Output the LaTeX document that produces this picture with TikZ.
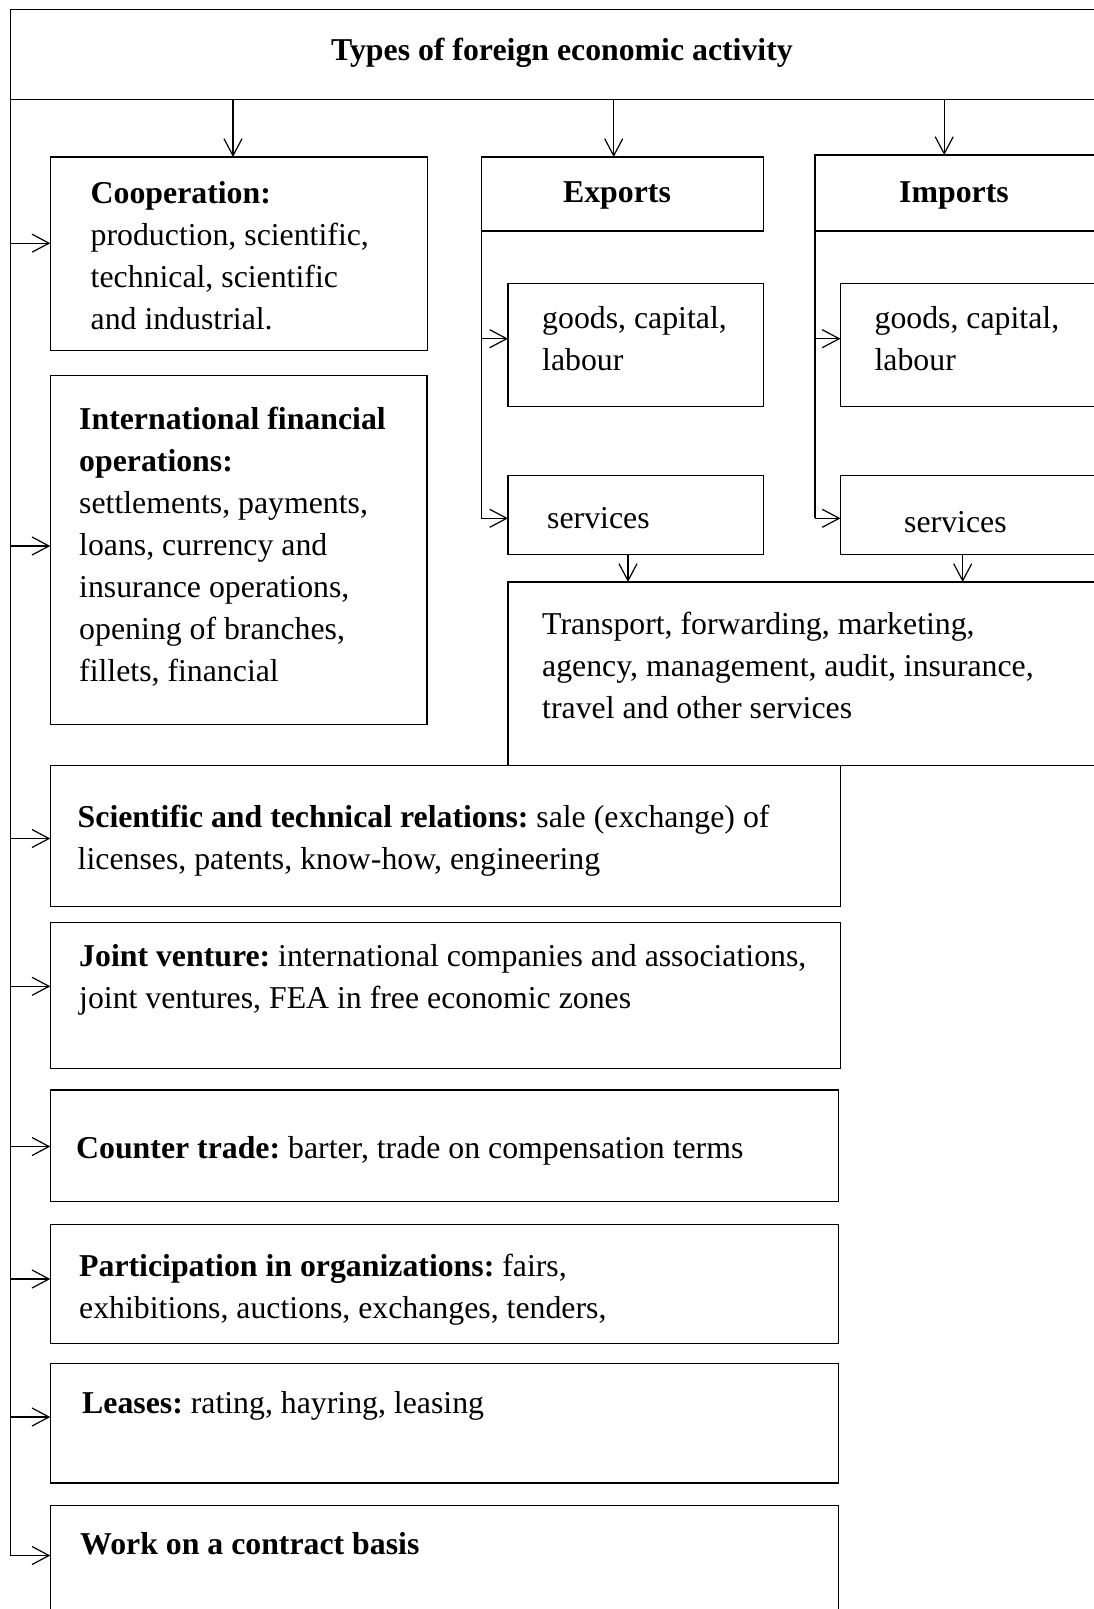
\documentclass[tikz,border=0pt]{standalone}
\usepackage{fontspec}
\setmainfont{Liberation Serif}[Ligatures=CommonOff]
\usetikzlibrary{arrows.meta}
\frenchspacing
\newcommand\txtlines[1]{\begin{tabular}[t]{@{}l@{}}#1\end{tabular}}
\begin{document}
\begin{tikzpicture}[x=1pt,y=-1pt,
  box/.style={draw, line width=1.2pt, rectangle, inner sep=0pt, outer sep=0pt, anchor=north west},
  lbl/.style={anchor=base west, inner sep=0pt},
  conn/.style={line width=1.2pt},
  arr/.style={conn, -{Straight Barb[length=17pt,width=18pt,line width=1.2pt]}},
  every node/.style={font=\fontsize{31.8}{42}\selectfont\frenchspacing}]
\useasboundingbox (0,0) rectangle (1094,1609);
\clip (0,0) rectangle (1094,1609);
\fill[white] (0,0) rectangle (1094,1609);

% boxes
\node[box, minimum width=1109.7pt, minimum height=90.5pt] (header) at (10.3,9.3) {};
\node[box, minimum width=377pt, minimum height=193.5pt] (coop) at (50.3,157) {};
\node[box, minimum width=282.3pt, minimum height=74pt] (exports) at (481.3,157) {};
\node[box, minimum width=305pt, minimum height=76pt] (imports) at (814.9,155) {};
\node[box, minimum width=255.6pt, minimum height=123pt] (goodsE) at (508,283.3) {};
\node[box, minimum width=255.6pt, minimum height=79pt] (servE) at (508,475.2) {};
\node[box, minimum width=280pt, minimum height=123pt] (goodsI) at (840.5,283.3) {};
\node[box, minimum width=280pt, minimum height=79pt] (servI) at (840.5,475.2) {};
\node[box, minimum width=612pt, minimum height=183.6pt] (transport) at (508,582) {};
\node[box, minimum width=376.7pt, minimum height=349pt] (finance) at (50.3,375.6) {};
\node[box, minimum width=790.2pt, minimum height=140.6pt] (sci) at (50.3,765.6) {};
\node[box, minimum width=790.2pt, minimum height=145.8pt] (joint) at (50.3,922.6) {};
\node[box, minimum width=788.2pt, minimum height=111.8pt] (counter) at (50.3,1090) {};
\node[box, minimum width=788.2pt, minimum height=119pt] (partic) at (50.3,1224.4) {};
\node[box, minimum width=788.2pt, minimum height=119.2pt] (leases) at (50.3,1363.8) {};
\node[box, minimum width=788.2pt, minimum height=150pt] (work) at (50.3,1505.6) {};

% texts
\node[anchor=base, inner sep=0pt] (title) at (562,60) {\textbf{Types of foreign economic activity}};
\node[lbl] (coopT) at (90.5,203) {\txtlines{\textbf{Cooperation:}\\ production, scientific,\\ technical, scientific\\ and industrial.}};
\node[anchor=base, inner sep=0pt] (expT) at (617,202) {\textbf{Exports}};
\node[anchor=base, inner sep=0pt] (impT) at (954,202) {\textbf{Imports}};
\node[lbl] (goodsET) at (542,328) {\txtlines{goods, capital,\\ labour}};
\node[lbl] (goodsIT) at (874.4,328) {\txtlines{goods, capital,\\ labour}};
\node[lbl] (servET) at (547,528) {services};
\node[lbl] (servIT) at (904,532) {services};
\node[lbl] (transT) at (542,634) {\txtlines{Transport, forwarding, marketing,\\ agency, management, audit, insurance,\\ travel and other services}};
\node[lbl] (finT) at (79,429) {\txtlines{\textbf{International financial}\\ \textbf{operations:}\\ settlements, payments,\\ loans, currency and\\ insurance operations,\\ opening of branches,\\ fillets, financial}};
\node[lbl] (sciT) at (77.5,827.5) {\txtlines{\textbf{Scientific and technical relations:} sale (exchange) of\\ licenses, patents, know-how, engineering}};
\node[lbl] (jointT) at (79,966.5) {\txtlines{\textbf{Joint venture:} international companies and associations,\\ joint ventures, FEA in free economic zones}};
\node[lbl] (counterT) at (76,1158) {\textbf{Counter trade:} barter, trade on compensation terms};
\node[lbl] (particT) at (79,1276.5) {\txtlines{\textbf{Participation in organizations:} fairs,\\ exhibitions, auctions, exchanges, tenders,}};
\node[lbl] (leasesT) at (82,1413.5) {\textbf{Leases:} rating, hayring, leasing};
\node[lbl] (workT) at (80,1554) {\textbf{Work on a contract basis}};

% main trunk
\draw[conn] (header.south west) -- (header.south west |- 0,1555.5);
\foreach \n/\y in {coop/243.2, finance/546, sci/838.5, joint/986.3, counter/1146.5, partic/1279, leases/1417, work/1555.5}
  \draw[arr] (header.south west |- 0,\y) -- (\n.west |- 0,\y);

% down arrows from header
\draw[arr] (header.south -| 233,0) -- (coop.north -| 233,0);
\draw[arr] (header.south -| 613.7,0) -- (exports.north -| 613.7,0);
\draw[arr] (header.south -| 944.2,0) -- (imports.north -| 944.2,0);

% exports / imports branches
\draw[conn] (exports.south west) -- (exports.south west |- 0,518.3);
\draw[arr] (exports.south west |- 0,338.7) -- (goodsE.west |- 0,338.7);
\draw[arr] (exports.south west |- 0,518.3) -- (servE.west |- 0,518.3);
\draw[conn] (imports.south west) -- (imports.south west |- 0,518.3);
\draw[arr] (imports.south west |- 0,338.7) -- (goodsI.west |- 0,338.7);
\draw[arr] (imports.south west |- 0,518.3) -- (servI.west |- 0,518.3);

% services to transport
\draw[arr] (servE.south -| 628,0) -- (transport.north -| 628,0);
\draw[arr] (servI.south -| 962.7,0) -- (transport.north -| 962.7,0);
\end{tikzpicture}
\end{document}
